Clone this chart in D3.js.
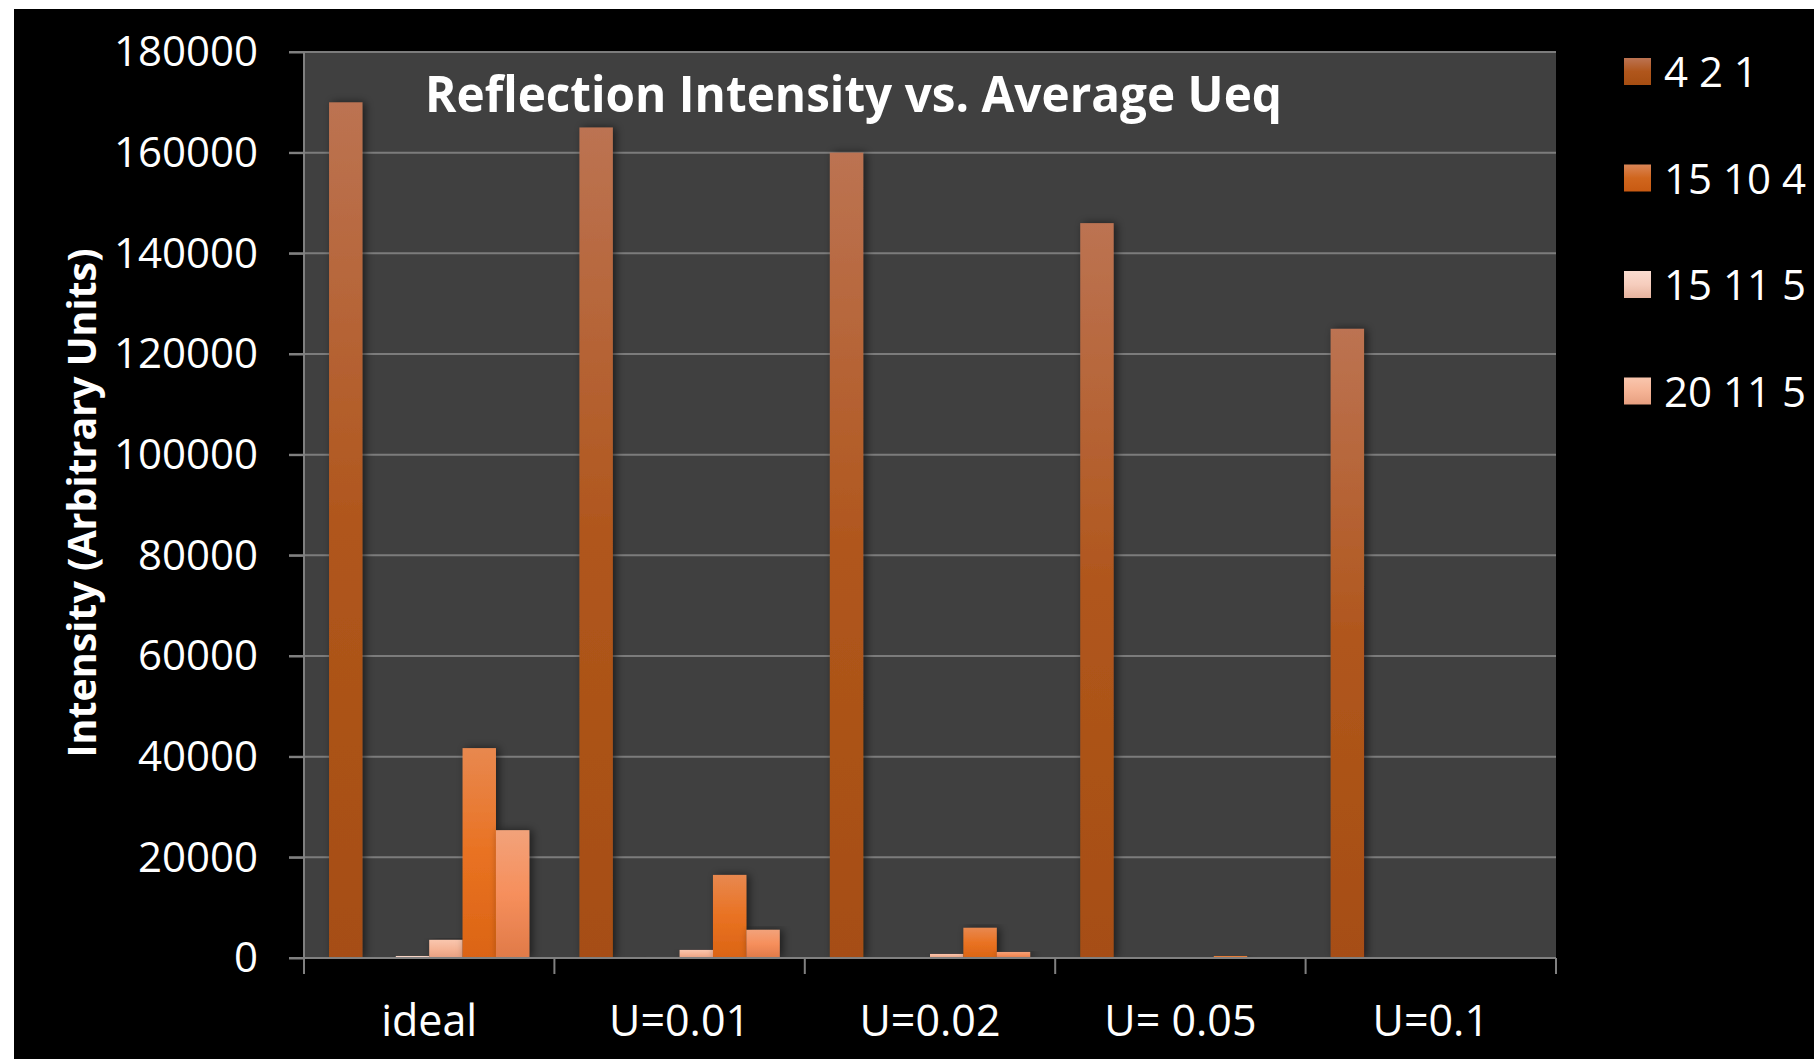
<!DOCTYPE html>
<html>
<head>
<meta charset="utf-8">
<script src="https://cdn.jsdelivr.net/npm/d3@7"></script>
<style>
  html, body { margin: 0; padding: 0; background: #ffffff; }
  svg { display: block; }
  text { font-family: "Open Sans", "Noto Sans", sans-serif; fill: #ffffff; }
</style>
</head>
<body>
<svg id="chart" width="1814" height="1059"></svg>
<script>
// Reflection intensities per Ueq setting
const categories = ["ideal", "U=0.01", "U=0.02", "U= 0.05", "U=0.1"];

const r421   = [170000, 165000, 160000, 146000, 125000];
const r15104 = [0, 0, 0, 0, 0];
const r15115 = [400, 200, 150, 0, 0];
const r20115 = [3600, 1600, 800, 0, 0];
const r5th   = [41700, 16500, 6000, 400, 0];
const r6th   = [25400, 5600, 1200, 0, 0];

const seriesValues = [r421, r15104, r15115, r20115, r5th, r6th];
const legendLabels = ["4 2 1", "15 10 4", "15 11 5", "20 11 5"];
const yTicks = [0, 20000, 40000, 60000, 80000, 100000, 120000, 140000, 160000, 180000];

// fill gradients (top, middle, bottom) for each series
const seriesFills = [
  ["#bc7352", "#b0561c", "#a64e12"],
  ["#da8556", "#d0661e", "#c85a12"],
  ["#fadcd0", "#f6cdbd", "#e6b39e"],
  ["#f9c6ae", "#f5b496", "#e79f80"],
  ["#e8884f", "#e97222", "#db6414"],
  ["#f2a27a", "#f68f5c", "#e07a48"]
];

const svg = d3.select("#chart");
const W = 1814, H = 1059;

// black panel with thin white margin on top and left
svg.append("rect").attr("x", 14).attr("y", 9).attr("width", W - 14).attr("height", H - 9).attr("fill", "#000");

const plot = { left: 304, right: 1556, top: 52, bottom: 958 };

const defs = svg.append("defs");
seriesFills.forEach((c, i) => {
  const g = defs.append("linearGradient").attr("id", "grad" + i)
    .attr("x1", 0).attr("y1", 0).attr("x2", 0).attr("y2", 1);
  g.append("stop").attr("offset", "0%").attr("stop-color", c[0]);
  g.append("stop").attr("offset", "50%").attr("stop-color", c[1]);
  g.append("stop").attr("offset", "100%").attr("stop-color", c[2]);
});
const shadow = defs.append("filter").attr("id", "barShadow")
  .attr("x", "-50%").attr("y", "-10%").attr("width", "200%").attr("height", "120%");
shadow.append("feDropShadow").attr("dx", 3).attr("dy", 0).attr("stdDeviation", 4)
  .attr("flood-color", "#000").attr("flood-opacity", 0.55);

// plot area background
svg.append("rect")
  .attr("x", plot.left).attr("y", plot.top)
  .attr("width", plot.right - plot.left).attr("height", plot.bottom - plot.top)
  .attr("fill", "#404040");

const y = d3.scaleLinear().domain([0, 180000]).range([plot.bottom, plot.top]);
const x0 = d3.scaleBand().domain(categories).range([plot.left, plot.right]).padding(0);
const x1 = d3.scaleBand().domain(d3.range(seriesValues.length))
  .range([0, x0.bandwidth()]).paddingInner(0).paddingOuter(0.75);

// horizontal gridlines
svg.append("g").selectAll("line").data(yTicks.filter(d => d > 0)).join("line")
  .attr("x1", plot.left - 15).attr("x2", plot.right)
  .attr("y1", d => y(d)).attr("y2", d => y(d))
  .attr("stroke", "#7c7c7c").attr("stroke-width", 2);

// bars
const groups = svg.append("g").selectAll("g").data(categories).join("g")
  .attr("transform", d => `translate(${x0(d)},0)`);
groups.selectAll("rect")
  .data((c, ci) => seriesValues.map((vals, si) => ({ si, v: vals[ci] })).filter(d => d.v > 0))
  .join("rect")
  .attr("x", d => x1(d.si))
  .attr("width", x1.bandwidth())
  .attr("y", d => y(d.v))
  .attr("height", d => y(0) - y(d.v))
  .attr("fill", d => `url(#grad${d.si})`)
  .attr("filter", "url(#barShadow)");

// y axis
const yAxis = svg.append("g").attr("transform", `translate(${plot.left},0)`)
  .call(d3.axisLeft(y).tickValues(yTicks).tickSize(15).tickPadding(31).tickFormat(d3.format("d")));
yAxis.select(".domain").attr("stroke", "#808080").attr("stroke-width", 2)
  .attr("d", `M0,${plot.top}V${plot.bottom}`);
yAxis.selectAll(".tick line").attr("stroke", "#808080").attr("stroke-width", 2);
yAxis.selectAll(".tick text").attr("font-size", 42).attr("fill", "#fff")
  .attr("dy", "0.33em");

// x axis
const xAxis = svg.append("g").attr("transform", `translate(0,${plot.bottom})`)
  .call(d3.axisBottom(x0).tickSize(0).tickPadding(0));
xAxis.select(".domain").remove();
xAxis.append("line").attr("x1", plot.left - 15).attr("x2", plot.right)
  .attr("y1", 0).attr("y2", 0).attr("stroke", "#808080").attr("stroke-width", 2);
xAxis.selectAll(".tick text").attr("font-size", 43).attr("fill", "#fff")
  .attr("y", 78).attr("dy", 0);
// category boundary ticks
xAxis.append("g").selectAll("line")
  .data(categories.map(c => x0(c)).concat([plot.right]))
  .join("line")
  .attr("x1", d => d).attr("x2", d => d).attr("y1", 0).attr("y2", 16)
  .attr("stroke", "#808080").attr("stroke-width", 2);

// y axis title
svg.append("text")
  .attr("transform", "translate(96,503) rotate(-90)")
  .attr("text-anchor", "middle")
  .attr("font-size", 40).attr("font-weight", 700)
  .attr("textLength", 509).attr("lengthAdjust", "spacingAndGlyphs")
  .text("Intensity (Arbitrary Units)");

// chart title
svg.append("text")
  .attr("x", 425).attr("y", 112)
  .attr("font-size", 51).attr("font-weight", 700)
  .attr("textLength", 857).attr("lengthAdjust", "spacingAndGlyphs")
  .text("Reflection Intensity vs. Average Ueq");

// legend
const legend = svg.append("g").selectAll("g").data(legendLabels).join("g")
  .attr("transform", (d, i) => `translate(1624,${58 + i * 106.5})`);
legend.append("rect").attr("width", 27).attr("height", 27)
  .attr("fill", (d, i) => `url(#grad${i})`);
legend.append("text").attr("x", 40).attr("y", 29)
  .attr("font-size", 42).text(d => d);
</script>
</body>
</html>
